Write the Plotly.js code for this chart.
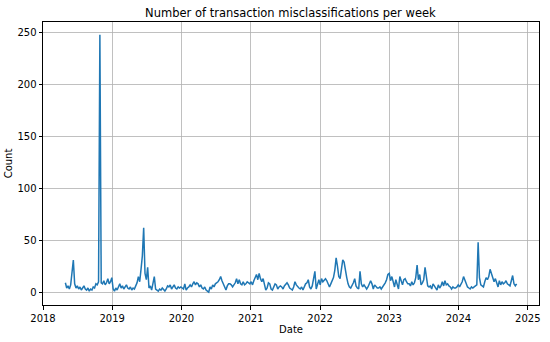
<!DOCTYPE html>
<html>
<head>
<meta charset="utf-8">
<script src="https://cdn.plot.ly/plotly-3.0.1.min.js"></script>
<style>html,body{margin:0;padding:0;background:#fff;}#chart{width:550px;height:342px;}</style>
</head>
<body>
<div id="chart"></div>
<script>
// First week of the series (weekly observations)
const startDate = "2018-04-29";
// Weekly counts
const counts = [
  9,4,6,3,7,20,31,8,4,6,3,5,2,4,6,3,2,4,1,3,
  2,5,4,8,7,10,248,9,8,11,7,9,13,8,10,14,3,1,4,2,
  5,8,4,6,3,5,7,4,3,5,2,4,3,6,9,15,10,22,35,62,
  18,12,24,4,6,2,8,15,3,2,1,3,2,4,2,1,3,6,5,7,
  3,5,7,4,3,5,4,5,4,3,8,2,4,5,7,5,8,10,7,9,
  8,5,7,4,3,5,2,1,0,5,3,7,5,8,9,10,12,15,11,8,
  5,2,6,8,8,7,5,7,9,13,8,12,8,7,10,7,8,10,9,8,
  10,7,11,15,17,12,18,13,10,13,7,2,4,9,8,3,2,6,8,7,
  3,5,6,5,3,6,8,9,7,4,3,2,5,10,7,5,4,3,5,2,
  6,8,9,12,5,3,6,14,20,3,8,12,7,13,10,12,13,11,7,5,
  8,12,14,21,33,25,15,13,25,31,29,20,14,8,5,4,6,9,13,6,
  4,3,20,8,5,7,5,3,5,9,11,8,3,7,5,4,4,5,3,5,
  6,9,12,17,18,11,15,10,5,12,8,3,15,11,7,12,13,10,8,8,
  6,10,7,9,14,26,12,17,7,9,12,24,12,6,5,6,3,8,6,4,
  2,7,4,6,10,6,11,7,8,6,5,3,5,4,4,5,7,5,7,10,
  15,11,7,5,4,3,5,4,5,6,7,48,14,7,6,5,10,14,12,15,
  22,18,15,10,13,8,5,11,7,10,8,9,11,8,7,6,11,16,8,6,
  8
];
// Axis tick labels
const yearTicks = ["2018","2019","2020","2021","2022","2023","2024","2025"];
const countTicks = [0,50,100,150,200,250];

// Calendar of weekly dates matching the counts
const dates = [];
{
  const d0 = new Date(startDate + "T00:00:00Z");
  for (let i = 0; i < counts.length; i++) {
    const d = new Date(d0.getTime() + i * 7 * 86400000);
    dates.push(d.toISOString().slice(0, 10));
  }
}

const font = {family: "DejaVu Sans, sans-serif", size: 10, color: "#000"};

const trace = {
  x: dates, y: counts, type: "scatter", mode: "lines",
  line: {color: "#1f77b4", width: 1.5}, hoverinfo: "skip"
};

const axisCommon = {
  showline: true, linecolor: "#000", linewidth: 1, mirror: true,
  ticks: "outside", ticklen: 3.5, tickwidth: 1, tickcolor: "#000",
  showgrid: true, gridcolor: "#b0b0b0", gridwidth: 0.8,
  zeroline: false, tickfont: font
};

const layout = {
  width: 550, height: 342,
  margin: {l: 43, r: 11, t: 22, b: 37},
  paper_bgcolor: "#fff", plot_bgcolor: "#fff",
  showlegend: false,
  font: font,
  title: {text: "Number of transaction misclassifications per week",
          font: {family: "DejaVu Sans, sans-serif", size: 11.5, color: "#000"},
          x: 0.528, xanchor: "center", y: 0.962, yanchor: "middle"},
  xaxis: Object.assign({}, axisCommon, {
    type: "date",
    range: ["2018-01-01", "2025-03-01"],
    tickvals: yearTicks.map(y => y + "-01-01"),
    ticktext: yearTicks,
    title: {text: "Date", font: font, standoff: 3}
  }),
  yaxis: Object.assign({}, axisCommon, {
    range: [-12.4, 260.4],
    tickvals: countTicks,
    ticktext: countTicks.map(String),
    title: {text: "Count", font: font, standoff: 2}
  })
};

Plotly.newPlot("chart", [trace], layout, {staticPlot: true, displayModeBar: false});
</script>
</body>
</html>
